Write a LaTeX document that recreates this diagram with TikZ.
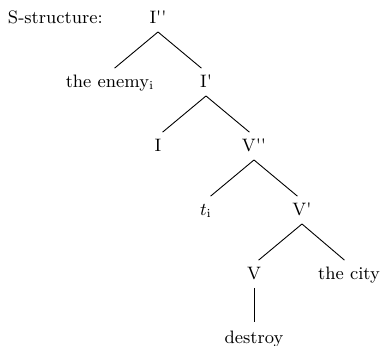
\documentclass[tikz,border=0pt]{standalone}
\usepackage{tikz}

\begin{document}
\begin{tikzpicture}[x=0.5pt, y=-0.5pt,
  every node/.style={font=\fontsize{9}{11}\selectfont, anchor=base,
    text height=6pt, text depth=2pt, inner xsep=0pt, inner ysep=2pt, outer sep=0pt},
  branch/.style={line width=0.45pt, shorten >=3pt}]
  \useasboundingbox (0,0) rectangle (382,346);
  % tree nodes, one row every 64 units
  \node[anchor=base west] (label) at (8,24) {S-structure:};
  \node (root) at (158,24) {I\textquotesingle\textquotesingle};
  \node (enemy) at (110,88) {the enemy$_{\mathrm{i}}$};
  \node (ibar) at (206,88) {I\textquotesingle};
  \node (infl) at (158,152) {I};
  \node (vmax) at (254,152) {V\textquotesingle\textquotesingle};
  \node (trace) at (206,216) {$t_{\mathrm{i}}$};
  \node (vbar) at (302,216) {V\textquotesingle};
  \node (verb) at (254,280) {V};
  \node (city) at (349,280) {the city};
  \node (destroy) at (254,344) {destroy};
  % branches
  \foreach \a/\b in {root/enemy, root/ibar, ibar/infl, ibar/vmax, vmax/trace,
    vmax/vbar, vbar/verb, vbar/city, verb/destroy}
    \draw[branch] (\a.south) -- (\b.north);
\end{tikzpicture}
\end{document}
